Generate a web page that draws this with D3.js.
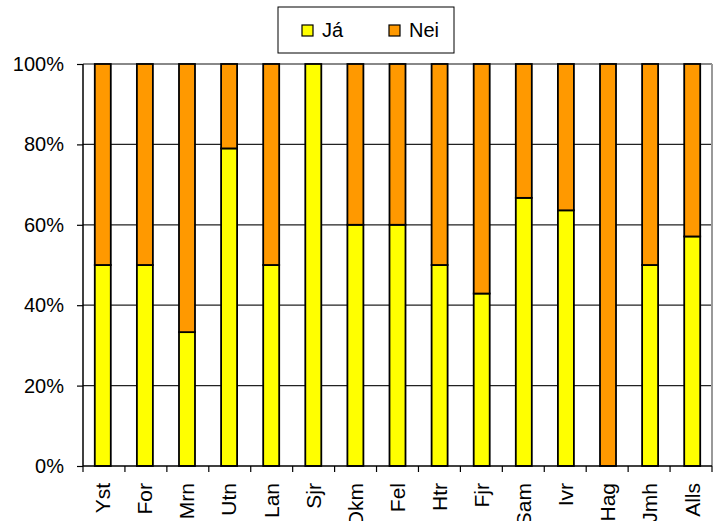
<!DOCTYPE html>
<html>
<head>
<meta charset="utf-8">
<script src="https://cdn.jsdelivr.net/npm/d3@7"></script>
<style>
  body { margin: 0; background: #fff; }
  text { font-family: "Liberation Sans", Arial, sans-serif; }
</style>
</head>
<body>
<script>
// data
var categories = ["Yst", "For", "Mrn", "Utn", "Lan", "Sjr", "Dkm", "Fel", "Htr", "Fjr", "Sam", "Ivr", "Hag", "Jmh", "Alls"];
var jaValues = [50, 50, 33.3, 79, 50, 100, 60, 60, 50, 42.9, 66.7, 63.6, 0, 50, 57.1];
var neiValues = jaValues.map(function(v) { return 100 - v; });
var seriesNames = ["Já", "Nei"];
var seriesColors = ["#ffff00", "#ff9900"];
var yTicks = [0, 20, 40, 60, 80, 100];

var margin = {top: 64, right: 5, bottom: 55, left: 83},
    width = 712 - margin.left,
    height = 466 - margin.top;

var svg = d3.select("body")
  .append("svg")
    .attr("width", 717)
    .attr("height", 521)
  .append("g")
    .attr("transform", "translate(" + margin.left + "," + margin.top + ")");

var x = d3.scaleBand()
  .domain(categories)
  .range([0, width])
  .paddingInner(0.62)
  .paddingOuter(0.28);

var y = d3.scaleLinear()
  .domain([0, 100])
  .range([height, 0]);

// gridlines
svg.append("g")
  .selectAll("line")
  .data(yTicks.filter(function(d) { return d > 0; }))
  .enter()
  .append("line")
    .attr("x1", 0)
    .attr("x2", width)
    .attr("y1", function(d) { return y(d); })
    .attr("y2", function(d) { return y(d); })
    .attr("stroke", function(d) { return d === 100 ? "#888" : "#222"; })
    .attr("stroke-width", function(d) { return d === 100 ? 2 : 1.2; });

// right border
svg.append("line")
  .attr("x1", width).attr("x2", width)
  .attr("y1", 0).attr("y2", height)
  .attr("stroke", "#999")
  .attr("stroke-width", 2);

// stacked bars
var stackData = categories.map(function(c, i) {
  return {cat: c, ja: jaValues[i], nei: neiValues[i]};
});
var stack = d3.stack().keys(["ja", "nei"])(stackData);

svg.append("g")
  .selectAll("g")
  .data(stack)
  .enter()
  .append("g")
    .attr("fill", function(d, i) { return seriesColors[i]; })
  .selectAll("rect")
  .data(function(d) { return d; })
  .enter()
  .filter(function(d) { return d[1] - d[0] > 0; })
  .append("rect")
    .attr("x", function(d) { return x(d.data.cat); })
    .attr("y", function(d) { return y(d[1]); })
    .attr("width", x.bandwidth())
    .attr("height", function(d) { return y(d[0]) - y(d[1]); })
    .attr("stroke", "#000")
    .attr("stroke-width", 1.8);

// Y axis
var yAxis = svg.append("g")
  .call(d3.axisLeft(y).tickValues(yTicks).tickFormat(function(d) { return d + "%"; }).tickSize(6).tickPadding(13));
yAxis.select(".domain").attr("stroke", "#000").attr("stroke-width", 1.5).attr("d", "M0," + height + "V0");
yAxis.selectAll("text").style("font-size", "20px").attr("fill", "#000");
yAxis.selectAll(".tick line").attr("stroke", "#000").attr("stroke-width", 1.2);

// X axis
var xAxis = svg.append("g")
  .attr("transform", "translate(0," + height + ")")
  .call(d3.axisBottom(x).tickSize(0));
xAxis.select(".domain").attr("stroke", "#000").attr("stroke-width", 1.5).attr("d", "M0,0H" + width);
xAxis.selectAll("text")
  .style("font-size", "21px")
  .attr("fill", "#000")
  .attr("text-anchor", "end")
  .attr("transform", "rotate(-90)")
  .attr("x", -17)
  .attr("y", 0)
  .attr("dy", "0.35em");

// category boundary ticks
svg.append("g")
  .selectAll("line")
  .data(d3.range(categories.length + 1))
  .enter()
  .append("line")
    .attr("x1", function(i) { return i * width / categories.length; })
    .attr("x2", function(i) { return i * width / categories.length; })
    .attr("y1", height)
    .attr("y2", height + 6)
    .attr("stroke", "#000")
    .attr("stroke-width", 1.2);

// legend
var legend = d3.select("svg").append("g")
  .attr("transform", "translate(278,7)");
legend.append("rect")
  .attr("x", 0).attr("y", 0)
  .attr("width", 176).attr("height", 46)
  .attr("fill", "#fff")
  .attr("stroke", "#000")
  .attr("stroke-width", 1);
var legendX = [24, 111];
legend.selectAll("rect.key")
  .data(seriesNames)
  .enter()
  .append("rect")
    .attr("class", "key")
    .attr("x", function(d, i) { return legendX[i]; })
    .attr("y", 18)
    .attr("width", 11)
    .attr("height", 11)
    .attr("fill", function(d, i) { return seriesColors[i]; })
    .attr("stroke", "#000")
    .attr("stroke-width", 1.2);
legend.selectAll("text")
  .data(seriesNames)
  .enter()
  .append("text")
    .attr("x", function(d, i) { return legendX[i] + 20; })
    .attr("y", 30)
    .style("font-size", "20px")
    .text(function(d) { return d; });
</script>
</body>
</html>
